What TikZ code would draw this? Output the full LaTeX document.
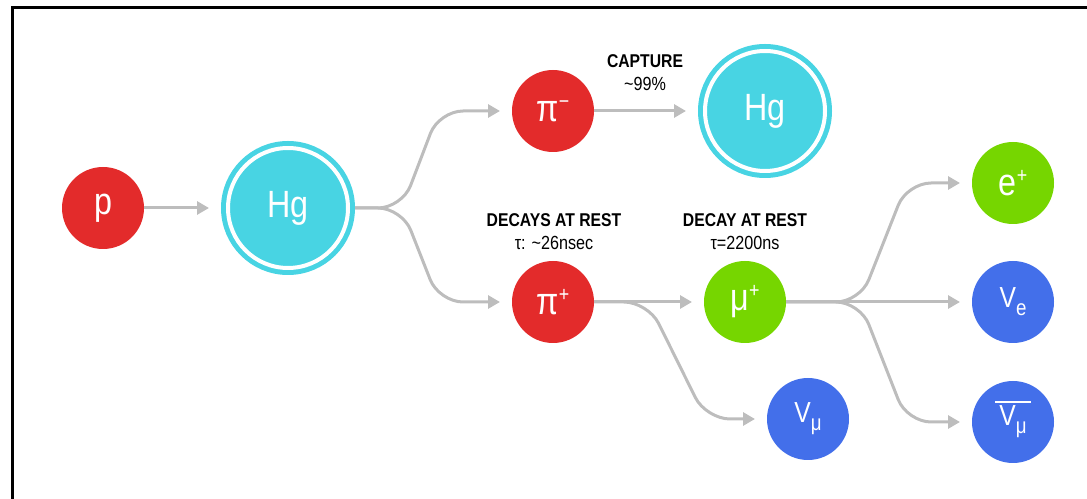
\documentclass[tikz,border=0pt]{standalone}
\usepackage{fontspec}
\setmainfont[FakeStretch=0.85]{Liberation Sans}
\usetikzlibrary{arrows.meta,calc}
\definecolor{pred}{HTML}{E32B2B}
\definecolor{hgcyan}{HTML}{48D4E3}
\definecolor{mgreen}{HTML}{76D600}
\definecolor{nblue}{HTML}{436FEA}
\definecolor{flowgray}{HTML}{BDBDBD}
\newcommand{\sups}[1]{\raisebox{13pt}{\fontsize{21}{21}\selectfont#1}}
\newcommand{\subs}[1]{\raisebox{-8pt}{\fontsize{22}{22}\selectfont#1}}
\begin{document}
\begin{tikzpicture}[x=1pt, y=1pt,
  particle/.style={circle, minimum size=82pt, inner sep=0pt, outer sep=0pt, text=white,
    font=\fontsize{38}{40}\selectfont},
  neutrino/.style={particle, fill=nblue, font=\fontsize{29}{30}\selectfont},
  nucleus/.style={circle, fill=hgcyan, draw=hgcyan, line width=5pt, double=white,
    double distance=4pt, minimum size=120pt, inner sep=0pt, outer sep=7pt, text=white,
    font=\fontsize{38}{40}\selectfont},
  flow/.style={draw=flowgray, line width=3pt, -{Triangle[length=12pt,width=13pt]},
    shorten >=12pt, rounded corners=24pt},
  head/.style={anchor=base, font=\fontsize{18.5}{22}\selectfont\bfseries},
  note/.style={anchor=base, font=\fontsize{19}{22}\selectfont}]
\useasboundingbox (0,0) rectangle (1087,498);
\clip (0,0) rectangle (1087,498);
\draw[line width=3pt] (12.5,-20) rectangle (1110,490.5);
% particles
\node[particle, fill=pred] (p) at (103,290) {p};
\node[nucleus] (hg1) at (288,290) {Hg};
\node[particle, fill=pred] (pim) at (553,387) {π\sups{−}};
\node[nucleus] (hg2) at (765,387) {Hg};
\node[particle, fill=pred] (pip) at (553,196) {π\sups{+}};
\node[particle, fill=mgreen] (mup) at (745,196) {μ\sups{+}};
\node[neutrino] (numu) at (808,79) {V\subs{μ}};
\node[particle, fill=mgreen] (ep) at (1013,315) {e\sups{+}};
\node[neutrino] (nue) at (1013,196) {V\subs{e}};
\node[neutrino] (anumu) at (1013,76) {V\subs{μ}};
\draw[white, line width=2pt] ([shift={(-18,20)}]anumu.center) -- ([shift={(18,20)}]anumu.center);
% labels
\node[head] (capt) at (645,430) {CAPTURE};
\node[note] (captrate) at (645,407) {\textasciitilde99\%};
\node[head] (pidecay) at (554,271) {DECAYS AT REST};
\node[note] (pitau) at (554,248) {τ: \textasciitilde26nsec};
\node[head] (mudecay) at (745,271) {DECAY AT REST};
\node[note] (mutau) at (745,248) {τ=2200ns};
% arrows
\draw[flow] (p) -- (hg1);
\draw[flow] (hg1.east) -- ++(47,0) -- ($(pim.west)+(-73,0)$) -- (pim.west);
\draw[flow] (hg1.east) -- ++(47,0) -- ($(pip.west)+(-73,0)$) -- (pip.west);
\draw[flow] (pim) -- (hg2);
\draw[flow] (pip) -- (mup);
\draw[flow] (pip.east) -- ++(54,0) -- ($(numu.west)+(-61,0)$) -- (numu.west);
\draw[flow] (mup.east) -- ++(74,0) -- ($(ep.west)+(-65,0)$) -- (ep.west);
\draw[flow] (mup) -- (nue);
\draw[flow] (mup.east) -- ++(74,0) -- ($(anumu.west)+(-65,0)$) -- (anumu.west);
\end{tikzpicture}
\end{document}
